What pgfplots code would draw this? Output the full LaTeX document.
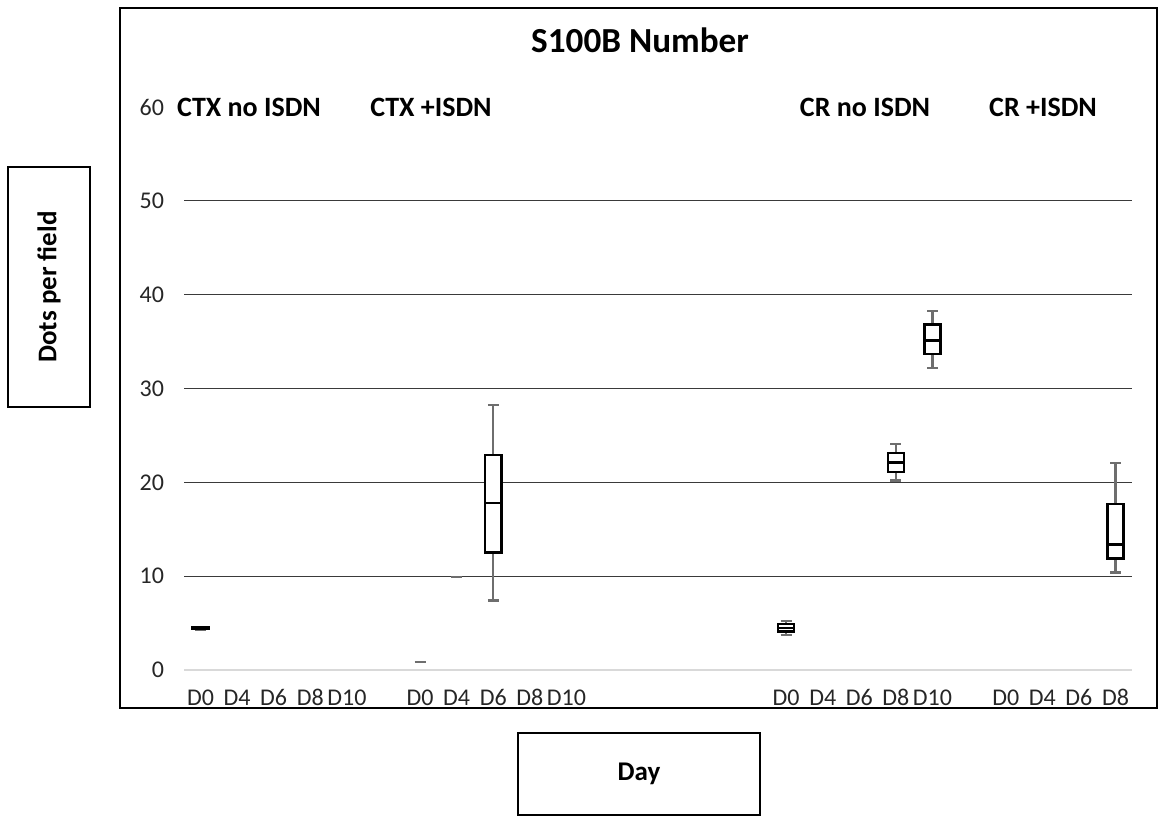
\documentclass[border=0pt]{standalone}
\usepackage{pgfplots}
\pgfplotsset{compat=1.18}
\usepgfplotslibrary{statistics}
\usepackage{fontspec}
\setmainfont{Carlito}
\definecolor{whisk}{HTML}{6E6E6E}
\definecolor{gridc}{HTML}{3A3A3A}
\definecolor{zeroc}{HTML}{D9D9D9}
\begin{document}
\begin{tikzpicture}
% invisible bounding frame (1165 x 819 px at 0.5pt/px)
\path (-92pt,-74.5pt) rectangle (490.5pt,335pt);
\begin{axis}[
  at={(0pt,0pt)}, anchor=south west,
  scale only axis, width=474pt, height=281.5pt,
  xmin=-0.45, xmax=25.45, ymin=0, ymax=60,
  separate axis lines,
  axis x line*=bottom, axis y line*=left,
  x axis line style={draw=zeroc, line width=0.9pt},
  y axis line style={draw=none},
  major tick length=0pt,
  ytick={0,10,...,60},
  extra y ticks={10,20,30,40,50},
  extra y tick labels={},
  extra y tick style={grid=major, major grid style={draw=gridc, line width=0.65pt}},
  xtick={0,1,2,3,4,6,7,8,9,10,16,17,18,19,20,22,23,24,25},
  xticklabels={D0,D4,D6,D8,D10,D0,D4,D6,D8,D10,D0,D4,D6,D8,D10,D0,D4,D6,D8},
  /pgf/number format/assume math mode=true,
  ticklabel style={font=\fontsize{12}{14}\selectfont, text=black!85},
  yticklabel style={xshift=-6.5pt},
  xticklabel style={text height=1.4ex, text depth=0.2ex, yshift=-7.5pt},
  boxplot/draw direction=y,
  boxplot/box extend=0.44,
  boxplot/whisker extend=0.3,
  boxplot/every box/.style={draw=black, line width=1.25pt, fill=white},
  boxplot/every whisker/.style={draw=whisk, line width=1.1pt},
  boxplot/every median/.style={draw=black, line width=1.25pt},
  clip=false,
]
% CTX no ISDN D0
\addplot[boxplot prepared={draw position=0, lower whisker=4.3, lower quartile=4.35, median=4.45, upper quartile=4.55, upper whisker=4.6}] coordinates {};
% CTX +ISDN D0 and D4 (single values)
\addplot[draw=whisk, line width=1.1pt] coordinates {(5.85,0.85) (6.15,0.85)};
\addplot[draw=whisk, line width=1.1pt] coordinates {(6.85,9.9) (7.15,9.9)};
% CTX +ISDN D6
\addplot[boxplot prepared={draw position=8, lower whisker=7.4, lower quartile=12.5, median=17.8, upper quartile=22.9, upper whisker=28.2}] coordinates {};
% CR no ISDN D0
\addplot[boxplot prepared={draw position=16, lower whisker=3.7, lower quartile=4.1, median=4.5, upper quartile=4.9, upper whisker=5.2}] coordinates {};
% CR no ISDN D8
\addplot[boxplot prepared={draw position=19, lower whisker=20.2, lower quartile=21.1, median=22.1, upper quartile=23.1, upper whisker=24.05}] coordinates {};
% CR no ISDN D10
\addplot[boxplot prepared={draw position=20, lower whisker=32.2, lower quartile=33.7, median=35.1, upper quartile=36.8, upper whisker=38.3}] coordinates {};
% CR +ISDN D8
\addplot[boxplot prepared={draw position=25, lower whisker=10.4, lower quartile=11.9, median=13.4, upper quartile=17.7, upper whisker=22.1}] coordinates {};
\end{axis}
% outer chart frame
\draw[line width=1.3pt] (-32pt,-19pt) rectangle (486.5pt,331pt);
% title
\node[font=\bfseries\fontsize{17.6}{20}\selectfont] at (228pt,315pt) {S100B Number};
% group labels
\begin{scope}[every node/.style={font=\bfseries\fontsize{14}{16}\selectfont}]
\node at (32.5pt,281.5pt) {CTX no ISDN};
\node at (123.5pt,281.5pt) {CTX +ISDN};
\node at (340.5pt,281.5pt) {CR no ISDN};
\node at (429.5pt,281.5pt) {CR +ISDN};
\end{scope}
% y label box
\draw[line width=0.8pt] (-88pt,131.5pt) rectangle (-47pt,251.5pt);
\node[rotate=90, font=\bfseries\fontsize{13.5}{16}\selectfont] at (-67.5pt,191.5pt) {Dots per field};
% x label box
\draw[line width=0.8pt] (167pt,-72.5pt) rectangle (288pt,-31.5pt);
\node[font=\bfseries\fontsize{13.5}{16}\selectfont] at (227.5pt,-52pt) {Day};
\end{tikzpicture}
\end{document}
